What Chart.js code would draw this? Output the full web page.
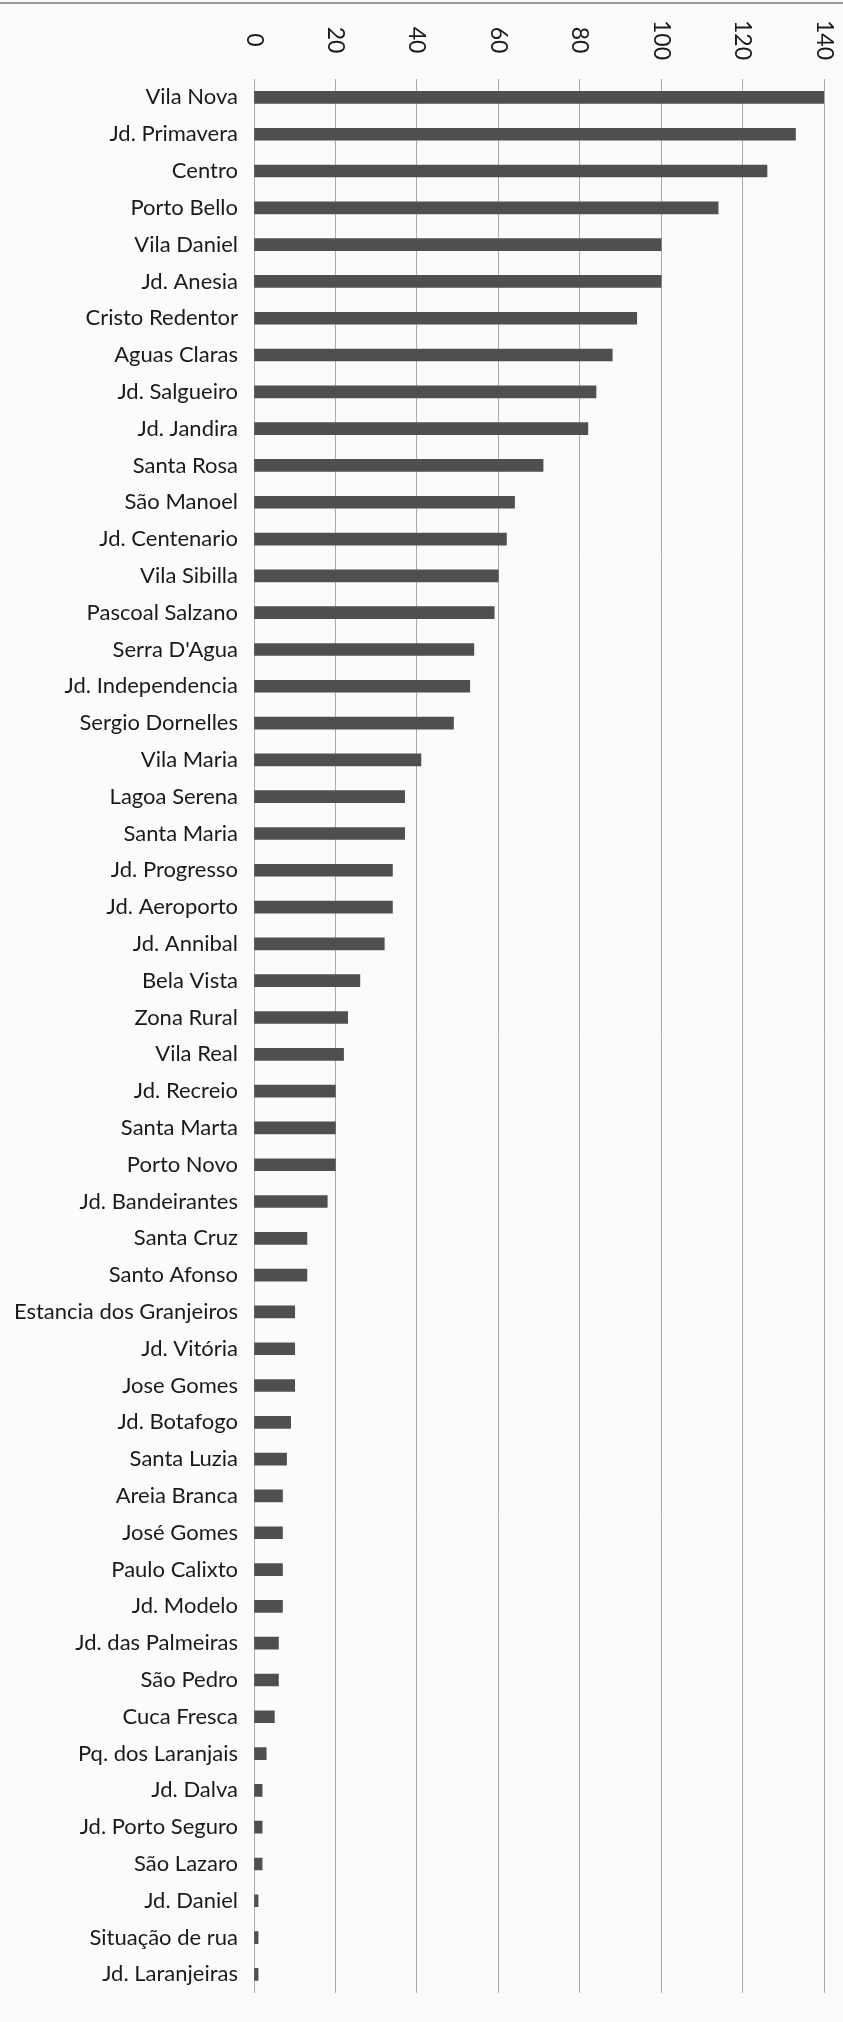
<!DOCTYPE html>
<html>
<head>
<meta charset="utf-8">
<script src="https://cdn.jsdelivr.net/npm/chart.js@4"></script>
<style>
    body { margin: 0; background: #fbfbfb; }
    .wrap { position: relative; width: 843px; height: 2022px; }
    .scan-edge { position: absolute; left: 0; top: 2px; width: 843px; height: 2px; background: #9a9a9a; }
</style>
</head>
<body>
<div class="wrap">
    <div class="scan-edge"></div>
    <canvas id="bairros-chart"></canvas>
</div>
<script>
const bairros = [
    'Vila Nova', 'Jd. Primavera', 'Centro', 'Porto Bello', 'Vila Daniel', 'Jd. Anesia',
    'Cristo Redentor', 'Aguas Claras', 'Jd. Salgueiro', 'Jd. Jandira', 'Santa Rosa',
    'São Manoel', 'Jd. Centenario', 'Vila Sibilla', 'Pascoal Salzano', "Serra D'Agua",
    'Jd. Independencia', 'Sergio Dornelles', 'Vila Maria', 'Lagoa Serena', 'Santa Maria',
    'Jd. Progresso', 'Jd. Aeroporto', 'Jd. Annibal', 'Bela Vista', 'Zona Rural', 'Vila Real',
    'Jd. Recreio', 'Santa Marta', 'Porto Novo', 'Jd. Bandeirantes', 'Santa Cruz', 'Santo Afonso',
    'Estancia dos Granjeiros', 'Jd. Vitória', 'Jose Gomes', 'Jd. Botafogo', 'Santa Luzia',
    'Areia Branca', 'José Gomes', 'Paulo Calixto', 'Jd. Modelo', 'Jd. das Palmeiras',
    'São Pedro', 'Cuca Fresca', 'Pq. dos Laranjais', 'Jd. Dalva', 'Jd. Porto Seguro',
    'São Lazaro', 'Jd. Daniel', 'Situação de rua', 'Jd. Laranjeiras'
];
const casos = [
    140, 133, 126, 114, 100, 100,
    94, 88, 84, 82, 71,
    64, 62, 60, 59, 54,
    53, 49, 41, 37, 37,
    34, 34, 32, 26, 23, 22,
    20, 20, 20, 18, 13, 13,
    10, 10, 10, 9, 8,
    7, 7, 7, 7, 6,
    6, 5, 3, 2, 2,
    2, 1, 1, 1
];
const xTickValues = [0, 20, 40, 60, 80, 100, 120, 140];

const FONT = "Lato, sans-serif";
const GRID = '#ababab';

// Excel-style labels on top, rotated clockwise
const topTickLabels = {
    id: 'topTickLabels',
    afterDraw(chart) {
        const scale = chart.scales.x;
        const ctx = chart.ctx;
        ctx.save();
        ctx.font = '23px ' + FONT;
        ctx.fillStyle = '#1a1a1a';
        ctx.textAlign = 'center';
        ctx.textBaseline = 'middle';
        scale.ticks.forEach((t, i) => {
            ctx.save();
            ctx.translate(scale.getPixelForTick(i), 40);
            ctx.rotate(Math.PI / 2);
            ctx.fillText(String(t.value), 0, 0);
            ctx.restore();
        });
        ctx.restore();
    }
};

const ctx = document.getElementById('bairros-chart').getContext('2d');
new Chart(ctx, {
    type: 'bar',
    data: {
        labels: bairros,
        datasets: [{
            data: casos,
            backgroundColor: '#4f4f4f',
            barThickness: 12
        }]
    },
    options: {
        indexAxis: 'y',
        responsive: true,
        maintainAspectRatio: false,
        animation: false,
        layout: { padding: { top: 0, right: 19, bottom: 0, left: 0 } },
        plugins: {
            legend: { display: false },
            tooltip: { enabled: false }
        },
        scales: {
            x: {
                position: 'top',
                min: 0,
                max: 140,
                afterBuildTicks: s => { s.ticks = xTickValues.map(v => ({ value: v })); },
                afterFit: s => { s.height = 79; },
                ticks: { display: false },
                grid: { color: GRID, lineWidth: 1, drawTicks: false },
                border: { display: false }
            },
            y: {
                afterFit: s => { s.width = 254; },
                ticks: {
                    autoSkip: false,
                    padding: 16,
                    color: '#1a1a1a',
                    font: { family: FONT, size: 22 }
                },
                grid: { display: false, drawTicks: false },
                border: { display: true, color: GRID, width: 1 }
            }
        }
    },
    plugins: [topTickLabels]
});
</script>
</body>
</html>
